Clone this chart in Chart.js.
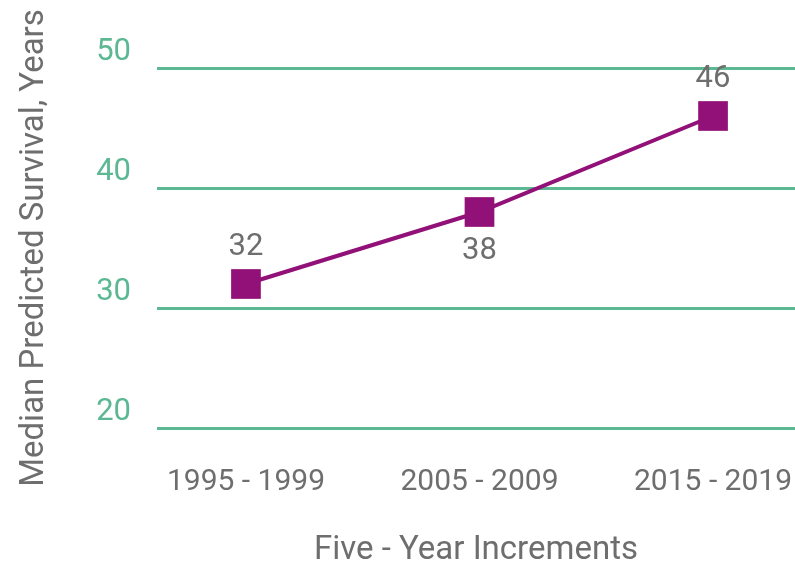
<!DOCTYPE html>
<html>
<head>
<meta charset="utf-8">
<script src="https://cdn.jsdelivr.net/npm/chart.js@4"></script>
<style>
  html, body { margin: 0; padding: 0; background: #fff; }
  #wrap { width: 795px; height: 564px; }
</style>
</head>
<body>
<div id="wrap"><canvas id="survivalChart" width="795" height="564"></canvas></div>
<script>
// Median predicted survival by period
const periods = ['1995 - 1999', '2005 - 2009', '2015 - 2019'];
const survivalYears = [32, 38, 46];
// which side of the marker each value label sits on
const labelSide = ['above', 'below', 'above'];
const yTicks = [20, 30, 40, 50];

const green = '#5bb892';
const purple = '#921178';
const grey = '#6e6e6e';
const fontFamily = 'Roboto, "Open Sans", sans-serif';

// Value labels next to each marker
const valueLabels = {
    id: 'valueLabels',
    afterDatasetsDraw(chart) {
        const ctx = chart.ctx;
        const meta = chart.getDatasetMeta(0);
        ctx.save();
        ctx.font = '31px ' + fontFamily;
        ctx.fillStyle = grey;
        ctx.textAlign = 'center';
        ctx.textBaseline = 'middle';
        meta.data.forEach((pt, i) => {
            const dy = labelSide[i] === 'above' ? -37 : 39;
            ctx.fillText(String(survivalYears[i]), pt.x, pt.y + dy);
        });
        ctx.restore();
    }
};

// keep the plot area edges fixed, ignoring end-label overhang
function noEdgePadding(scale) {
    scale.paddingLeft = 0;
    scale.paddingRight = 0;
    scale.paddingTop = 0;
    scale.paddingBottom = 0;
}

const config = {
    type: 'line',
    data: {
        datasets: [{
            label: 'Median Predicted Survival',
            data: survivalYears.map((v, i) => ({ x: i, y: v })),
            borderColor: purple,
            backgroundColor: purple,
            borderWidth: 4,
            pointStyle: 'rect',
            pointRadius: 21,
            pointHoverRadius: 21,
            pointBorderWidth: 0,
            pointBackgroundColor: purple,
            tension: 0,
            fill: false
        }]
    },
    options: {
        responsive: false,
        animation: false,
        events: [],
        clip: false,
        layout: {
            autoPadding: false,
            padding: { left: 15, right: 0, top: 68, bottom: 0 }
        },
        plugins: {
            legend: { display: false },
            tooltip: { enabled: false }
        },
        scales: {
            x: {
                type: 'linear',
                min: -0.381,
                max: 2.351,
                afterBuildTicks(scale) {
                    scale.ticks = periods.map((p, i) => ({ value: i }));
                },
                afterFit(scale) {
                    scale.height = 136;
                    noEdgePadding(scale);
                },
                grid: { display: false, drawTicks: false },
                border: { display: false },
                ticks: {
                    padding: 36,
                    color: grey,
                    font: { family: fontFamily, size: 30 },
                    maxRotation: 0,
                    callback: (v) => periods[v]
                },
                title: {
                    display: true,
                    text: 'Five - Year Increments',
                    color: grey,
                    font: { family: fontFamily, size: 33 },
                    padding: { top: 0, bottom: -7 }
                }
            },
            y: {
                min: 20,
                max: 50,
                afterBuildTicks(scale) {
                    scale.ticks = yTicks.map(v => ({ value: v }));
                },
                afterFit(scale) {
                    scale.width = 142;
                    noEdgePadding(scale);
                },
                grid: { color: green, lineWidth: 3, drawTicks: false },
                border: { display: false },
                ticks: {
                    padding: 26,
                    labelOffset: -16,
                    color: green,
                    font: { family: fontFamily, size: 31 }
                },
                title: {
                    display: true,
                    text: 'Median Predicted Survival, Years',
                    color: grey,
                    font: { family: fontFamily, size: 33 },
                    padding: 0
                }
            }
        }
    },
    plugins: [valueLabels]
};

const ctx = document.getElementById('survivalChart').getContext('2d');
const survivalChart = new Chart(ctx, config);
</script>
</body>
</html>
